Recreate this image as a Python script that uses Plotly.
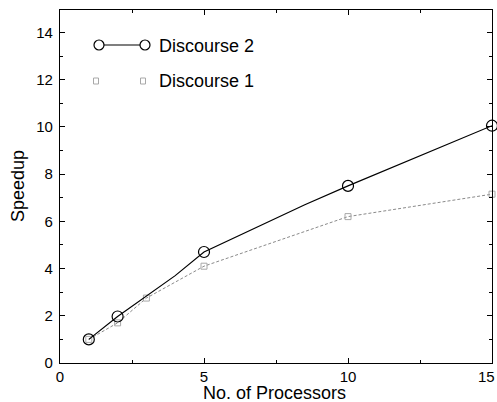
import plotly.graph_objects as go

# Data
procs_d2 = [1, 2, 4, 5, 8.5, 10, 15]
speed_d2 = [1.0, 1.97, 3.7, 4.7, 6.7, 7.5, 10.05]
mark_x_d2 = [1, 2, 5, 10, 15]
mark_y_d2 = [1.0, 1.97, 4.7, 7.5, 10.05]

procs_d1 = [1, 2, 3, 5, 10, 15]
speed_d1 = [1.0, 1.7, 2.75, 4.1, 6.2, 7.15]

x_ticks = [0, 5, 10, 15]
x_tick_labels = ["0", "5", "10", "15"]
y_ticks = [0, 2, 4, 6, 8, 10, 12, 14]

FONT = "Liberation Sans, Arial, sans-serif"

W, H = 497, 402
# plot area in window pixels
L, R, T, B = 60, 492, 10, 363

def px(x):
    return (x - L) / (R - L)
def py(y):
    return (B - y) / (B - T)

fig = go.Figure()
fig.add_trace(go.Scatter(x=procs_d1, y=speed_d1, mode="lines+markers",
                         line=dict(color="#8a8a8a", width=1, dash="3px,2px"),
                         marker=dict(symbol="square-open", size=6, color="#a8a8a8", line=dict(width=1)),
                         showlegend=False, cliponaxis=False))
fig.add_trace(go.Scatter(x=procs_d2, y=speed_d2, mode="lines",
                         line=dict(color="black", width=1.2),
                         showlegend=False, cliponaxis=False))
fig.add_trace(go.Scatter(x=mark_x_d2, y=mark_y_d2, mode="markers",
                         marker=dict(symbol="circle-open", size=11, color="black", line=dict(width=1.2)),
                         showlegend=False, cliponaxis=False))

# manual legend (paper coordinates)
shapes = []
shapes.append(dict(type="line", xref="paper", yref="paper", x0=px(99), x1=px(145), y0=py(45), y1=py(45),
                   line=dict(color="black", width=1.2)))
for cx in (99, 145):
    shapes.append(dict(type="circle", xref="paper", yref="paper", xsizemode="pixel", ysizemode="pixel",
                       xanchor=px(cx), yanchor=py(45), x0=-5, x1=5, y0=-5, y1=5,
                       fillcolor="white", line=dict(color="black", width=1.2)))
for cx in (96, 143):
    shapes.append(dict(type="rect", xref="paper", yref="paper", xsizemode="pixel", ysizemode="pixel",
                       xanchor=px(cx), yanchor=py(81), x0=-2.5, x1=2.5, y0=-3, y1=3,
                       line=dict(color="#a8a8a8", width=1)))

annotations = [
    dict(text="Discourse 2", xref="paper", yref="paper", x=px(157), y=py(46), xanchor="left", yanchor="middle",
         showarrow=False, font=dict(family=FONT, size=18, color="black")),
    dict(text="Discourse 1", xref="paper", yref="paper", x=px(157), y=py(81), xanchor="left", yanchor="middle",
         showarrow=False, font=dict(family=FONT, size=18, color="black")),
    dict(text="No. of Processors", xref="paper", yref="paper", x=px(274), y=py(393), xanchor="center",
         yanchor="middle", showarrow=False, font=dict(family=FONT, size=18, color="black")),
    dict(text="Speedup", xref="paper", yref="paper", x=px(18), y=py(186), xanchor="center",
         yanchor="middle", textangle=-90, showarrow=False, font=dict(family=FONT, size=18, color="black")),
    # last x tick label, pulled inside the window edge so it is not cut off
    dict(text=x_tick_labels[-1], xref="paper", yref="paper", x=px(496), y=py(376), xanchor="right",
         yanchor="middle", showarrow=False, borderpad=0, font=dict(family=FONT, size=15, color="black")),
]

axis_common = dict(showgrid=False, zeroline=False, showline=True, linecolor="black", linewidth=1.2,
                   mirror="ticks", ticks="inside", ticklen=5, tickcolor="black", tickwidth=1,
                   automargin=False,
                   tickfont=dict(family=FONT, size=15, color="black"))

fig.update_layout(
    width=W, height=H,
    margin=dict(l=L, r=W - R, t=T, b=H - B, autoexpand=False),
    paper_bgcolor="white", plot_bgcolor="white",
    font=dict(family=FONT, color="black"),
    shapes=shapes, annotations=annotations,
    xaxis=dict(range=[0, 15], tickvals=x_ticks, ticktext=x_tick_labels[:-1] + [""],
               minor=dict(dtick=2.5, tick0=0, ticks="inside", ticklen=3, tickcolor="black"),
               **axis_common),
    yaxis=dict(range=[0, 14.95], tickvals=y_ticks, ticktext=[str(v) for v in y_ticks],
               minor=dict(dtick=1, tick0=0, ticks="inside", ticklen=3, tickcolor="black"),
               ticklabelstandoff=3,
               **axis_common),
)

fig.write_html("out.html", config={"displayModeBar": False},
               post_script="document.body.style.margin='0';document.body.style.overflow='hidden';")
